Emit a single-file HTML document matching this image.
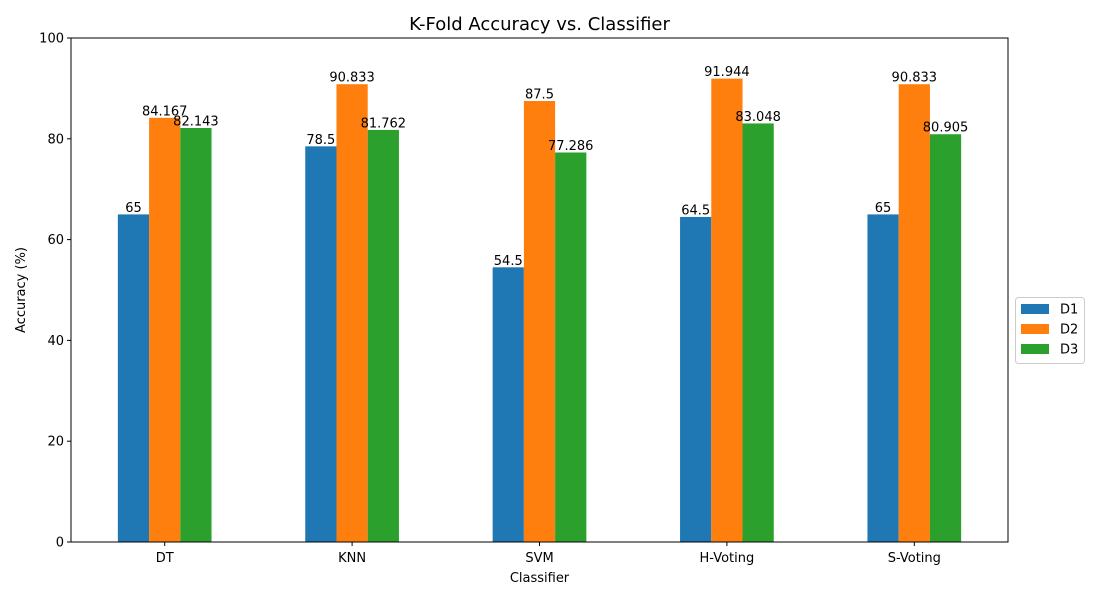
<!DOCTYPE html>
<html><head><meta charset="utf-8"><style>
body{margin:0;background:#fff;}
svg text{font-family:"DejaVu Sans","Liberation Sans",sans-serif;fill:#000;}
</style></head><body>
<svg id="chart" width="1100" height="600" xmlns="http://www.w3.org/2000/svg">
<rect width="1100" height="600" fill="#fff"/>
<g id="bars"></g>
<g id="axes"></g>
</svg>
<script>
const categories = ["DT","KNN","SVM","H-Voting","S-Voting"];
const seriesNames = ["D1","D2","D3"];
const d1 = [65, 78.5, 54.5, 64.5, 65];
const d2 = [84.167, 90.833, 87.5, 91.944, 90.833];
const d3 = [82.143, 81.762, 77.286, 83.048, 80.905];
const labelsD1 = ["65","78.5","54.5","64.5","65"];
const labelsD2 = ["84.167","90.833","87.5","91.944","90.833"];
const labelsD3 = ["82.143","81.762","77.286","83.048","80.905"];
const yTicks = [0,20,40,60,80,100];
const colors = ["#1f77b4","#ff7f0e","#2ca02c"];

const NS="http://www.w3.org/2000/svg";
const L=71,R=1008,T=38,B=542;
const ymin=0,ymax=100;
const yS=v=>B-(v-ymin)/(ymax-ymin)*(B-T);
const unit=(R-L)/(categories.length);
const xS=i=>L+(i+0.5)*unit;
const barW=unit*0.5/3;
function mk(tag,attrs,parent){const e=document.createElementNS(NS,tag);for(const k in attrs)e.setAttribute(k,attrs[k]);parent.appendChild(e);return e;}
const bars=document.getElementById('bars'), axes=document.getElementById('axes');
const series=[d1,d2,d3], labs=[labelsD1,labelsD2,labelsD3];
series.forEach((s,si)=>{
  s.forEach((v,i)=>{
    const x=xS(i)-unit*0.25+si*barW;
    const r=mk('rect',{x:x,y:yS(v),width:barW,height:yS(0)-yS(v),fill:colors[si]},bars);
    
    
    const t=mk('text',{x:x+barW/2,y:yS(v)-2.5,'text-anchor':'middle','font-size':13},bars);
    t.textContent=labs[si][i];
    
    
  });
});
const frame=mk('rect',{x:L,y:T,width:R-L,height:B-T,fill:'none',stroke:'#000','stroke-width':1},axes);


yTicks.forEach(v=>{
  mk('line',{x1:L-4,x2:L,y1:yS(v),y2:yS(v),stroke:'#000'},axes);
  const t=mk('text',{x:L-7,y:yS(v)+4.5,'text-anchor':'end','font-size':13},axes);
  t.textContent=v;
  
  
});
categories.forEach((c,i)=>{
  mk('line',{x1:xS(i),x2:xS(i),y1:B,y2:B+4,stroke:'#000'},axes);
  const t=mk('text',{x:xS(i),y:B+20,'text-anchor':'middle','font-size':13},axes);
  t.textContent=c;
  
  
});
let t=mk('text',{x:(L+R)/2,y:582,'text-anchor':'middle','font-size':13},axes);t.textContent='Classifier';


t=mk('text',{x:25,y:(T+B)/2,'text-anchor':'middle','font-size':13,transform:'rotate(-90 25 '+((T+B)/2)+')'},axes);t.textContent='Accuracy (%)';


t=mk('text',{x:(L+R)/2,y:30,'text-anchor':'middle','font-size':18},axes);t.textContent='K-Fold Accuracy vs. Classifier';


const lg=mk('g',{},axes);


mk('rect',{x:1015.5,y:297.5,width:69,height:66,rx:3,fill:'#fff',stroke:'#ccc'},lg);
seriesNames.forEach((n,si)=>{
  const y=309+si*20;
  const p=mk('rect',{x:1021,y:y-5,width:28,height:10,fill:colors[si]},lg);
  
  
  const tx=mk('text',{x:1060,y:y+4.5,'font-size':13},lg);tx.textContent=n;
  
  
});
</script>
</body></html>
